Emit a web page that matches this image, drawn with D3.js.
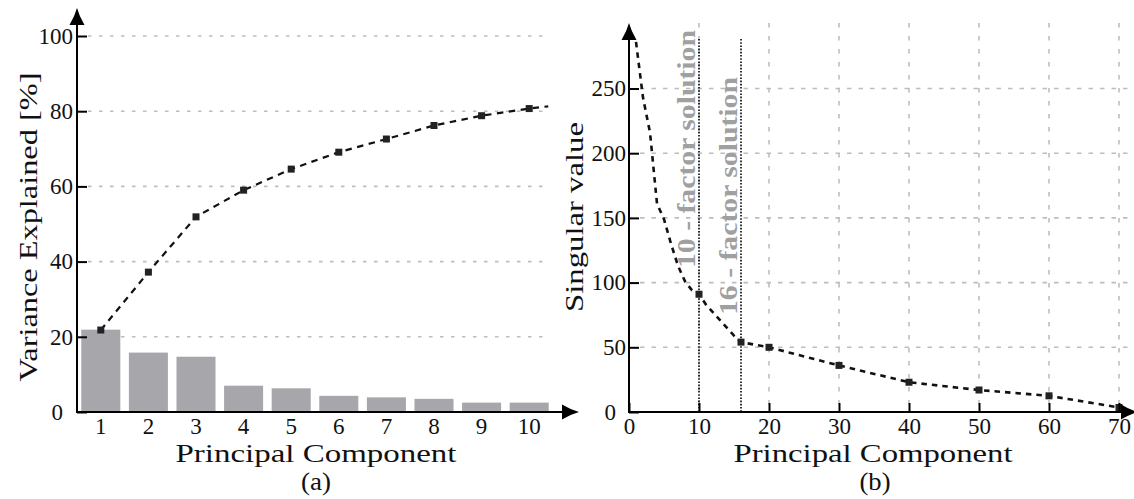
<!DOCTYPE html>
<html>
<head>
<meta charset="utf-8">
<script src="https://cdn.jsdelivr.net/npm/d3@7"></script>
<style>
  html, body { margin: 0; padding: 0; background: #fff; }
  svg { display: block; }
  text { font-family: "Liberation Serif", "Times New Roman", serif; fill: #111; }
</style>
</head>
<body>
<svg id="chart" width="1134" height="499"></svg>
<script>
/* ---------- data: (a) variance explained ---------- */
const components = [1, 2, 3, 4, 5, 6, 7, 8, 9, 10];
const varianceExplained = [21.9, 15.8, 14.7, 7.0, 6.3, 4.3, 3.9, 3.5, 2.5, 2.5];
const cumulativeExplained = [21.8, 37.2, 51.9, 59.0, 64.6, 69.1, 72.6, 76.2, 78.8, 80.7];
// the dashed cumulative curve runs a little past the last marker
const cumulativeTail = { pc: 10.4, value: 81.3 };
const leftYTicks = [0, 20, 40, 60, 80, 100];

/* ---------- data: (b) singular values ---------- */
const svComponents = [1, 2, 3, 4, 5, 6, 7, 8, 9, 10, 11, 12, 13, 14, 15, 16, 20, 30, 40, 50, 60, 70];
const singularValues = [286, 243, 216, 161, 149, 130, 113, 101, 94, 91, 83, 77, 71, 65, 59, 54, 50, 36, 23, 17, 12.5, 3.5];
const svMarked = [10, 16, 20, 30, 40, 50, 60, 70];
const factorSolutions = [10, 16];
const rightXTicks = [0, 10, 20, 30, 40, 50, 60, 70];
const rightYTicks = [0, 50, 100, 150, 200, 250];

const svg = d3.select('#chart');
const font = '"Liberation Serif", "Times New Roman", serif';
const gridColor = '#bdbdbd';
const barColor = '#a7a7ab';
const noteColor = '#a0a0a0';
const tickFont = 23;
const titleFont = 26;

// arrow head pointing along +x, tip at origin
const arrowPath = 'M0,0 Q-8,-2.2 -17,-7.5 L-17,7.5 Q-8,2.2 0,0 Z';
function arrow(g, x, y, angle) {
  g.append('path').attr('d', arrowPath)
    .attr('transform', `translate(${x},${y}) rotate(${angle})`)
    .attr('fill', '#000');
}

function styleTicks(axis) {
  axis.selectAll('.tick text')
    .attr('font-family', font).attr('font-size', tickFont).attr('fill', '#111');
}

/* =========================== (a) =========================== */
const xA = d3.scaleBand().domain(components).range([77, 553]).paddingInner(0.18).paddingOuter(0.09);
const yA = d3.scaleLinear().domain([0, 100]).range([412, 36]);
const xAline = d3.scaleLinear().domain([1, 10])
  .range([xA(1) + xA.bandwidth() / 2, xA(10) + xA.bandwidth() / 2]);

const gA = svg.append('g').attr('class', 'panel-a');

// horizontal grid
gA.append('g').selectAll('line').data(leftYTicks.filter(d => d > 0)).join('line')
  .attr('x1', 88).attr('x2', 548)
  .attr('y1', d => yA(d)).attr('y2', d => yA(d))
  .attr('stroke', gridColor).attr('stroke-width', 1.6)
  .attr('stroke-dasharray', '3.5,7.5');

// bars
gA.append('g').selectAll('rect').data(components).join('rect')
  .attr('x', d => xA(d))
  .attr('width', xA.bandwidth())
  .attr('y', (d, i) => yA(varianceExplained[i]))
  .attr('height', (d, i) => yA(0) - yA(varianceExplained[i]))
  .attr('fill', barColor);

// cumulative line
const cumPts = components.map((d, i) => [d, cumulativeExplained[i]]).concat([[cumulativeTail.pc, cumulativeTail.value]]);
gA.append('path')
  .datum(cumPts)
  .attr('d', d3.line().x(d => xAline(d[0])).y(d => yA(d[1])))
  .attr('fill', 'none').attr('stroke', '#111').attr('stroke-width', 2.2)
  .attr('stroke-dasharray', '6.5,5.5');
gA.append('g').selectAll('rect').data(components).join('rect')
  .attr('x', d => xAline(d) - 3.5)
  .attr('y', (d, i) => yA(cumulativeExplained[i]) - 3.5)
  .attr('width', 7).attr('height', 7)
  .attr('fill', '#222');

// y axis (ticks inside)
const yAxisA = gA.append('g').attr('transform', 'translate(77,0)')
  .call(d3.axisLeft(yA).tickValues(leftYTicks).tickSize(-10).tickPadding(4));
yAxisA.select('.domain').remove();
yAxisA.selectAll('.tick line').attr('stroke', '#000').attr('stroke-width', 2);
styleTicks(yAxisA);
yAxisA.selectAll('.tick text').attr('dx', d => d === 0 ? -10 : 0);

// x axis labels (no ticks)
const xAxisA = gA.append('g').attr('transform', 'translate(0,412)')
  .call(d3.axisBottom(xA).tickSize(0).tickPadding(6));
xAxisA.select('.domain').remove();
styleTicks(xAxisA);

// axis lines + arrows
gA.append('line').attr('x1', 77).attr('x2', 77).attr('y1', 413).attr('y2', 12)
  .attr('stroke', '#000').attr('stroke-width', 2);
gA.append('line').attr('x1', 76).attr('x2', 570).attr('y1', 412).attr('y2', 412)
  .attr('stroke', '#000').attr('stroke-width', 2);
arrow(gA, 77, 8, -90);
arrow(gA, 579, 412, 0);

// titles
gA.append('text').attr('x', 316).attr('y', 462).attr('text-anchor', 'middle')
  .attr('font-size', titleFont).attr('textLength', 281).attr('lengthAdjust', 'spacingAndGlyphs')
  .text('Principal Component');
gA.append('text').attr('x', 316).attr('y', 490).attr('text-anchor', 'middle')
  .attr('font-size', titleFont).attr('textLength', 30).attr('lengthAdjust', 'spacingAndGlyphs')
  .text('(a)');
gA.append('text').attr('transform', 'translate(37,227) rotate(-90)').attr('text-anchor', 'middle')
  .attr('font-size', titleFont).attr('textLength', 309).attr('lengthAdjust', 'spacingAndGlyphs')
  .text('Variance Explained [%]');

/* =========================== (b) =========================== */
const xB = d3.scaleLinear().domain([0, 70]).range([629, 1119]);
const yB = d3.scaleLinear().domain([0, 250]).range([412, 88.5]);

const gB = svg.append('g').attr('class', 'panel-b');

// grid
gB.append('g').selectAll('line').data(rightYTicks.filter(d => d > 0)).join('line')
  .attr('x1', 640).attr('x2', 1134)
  .attr('y1', d => yB(d)).attr('y2', d => yB(d))
  .attr('stroke', gridColor).attr('stroke-width', 1.6)
  .attr('stroke-dasharray', '4.5,7');
gB.append('g').selectAll('line').data(rightXTicks.filter(d => d > 0)).join('line')
  .attr('x1', d => xB(d)).attr('x2', d => xB(d))
  .attr('y1', 23).attr('y2', 412)
  .attr('stroke', gridColor).attr('stroke-width', 1.6)
  .attr('stroke-dasharray', '4.5,8.5');

// factor solution markers
gB.append('g').selectAll('line').data(factorSolutions).join('line')
  .attr('x1', d => xB(d)).attr('x2', d => xB(d))
  .attr('y1', 39).attr('y2', 412)
  .attr('stroke', '#000').attr('stroke-width', 1.6)
  .attr('stroke-dasharray', '1.6,1.6');
gB.append('g').selectAll('text').data(factorSolutions).join('text')
  .attr('transform', (d, i) => `translate(${xB(d) - 4},${i === 0 ? 268 : 315}) rotate(-90)`)
  .attr('font-size', 25).attr('font-weight', 'bold')
  .attr('textLength', 238).attr('lengthAdjust', 'spacingAndGlyphs')
  .style('fill', noteColor)
  .text(d => `${d} - factor solution`);

// singular value curve
const svPts = svComponents.map((d, i) => [d, singularValues[i]]);
gB.append('path')
  .datum(svPts)
  .attr('d', d3.line().x(d => xB(d[0])).y(d => yB(d[1])))
  .attr('fill', 'none').attr('stroke', '#111').attr('stroke-width', 2.6)
  .attr('stroke-dasharray', '5.5,5');
gB.append('g').selectAll('rect').data(svMarked).join('rect')
  .attr('x', d => xB(d) - 3.5)
  .attr('y', d => yB(singularValues[svComponents.indexOf(d)]) - 3.5)
  .attr('width', 7).attr('height', 7)
  .attr('fill', '#222');

// axes (ticks inside)
const yAxisB = gB.append('g').attr('transform', 'translate(629,0)')
  .call(d3.axisLeft(yB).tickValues(rightYTicks).tickSize(-10).tickPadding(3));
yAxisB.select('.domain').remove();
yAxisB.selectAll('.tick line').attr('stroke', '#000').attr('stroke-width', 2);
styleTicks(yAxisB);
yAxisB.selectAll('.tick text').attr('dx', d => d === 0 ? -10 : 0);

const xAxisB = gB.append('g').attr('transform', 'translate(0,412)')
  .call(d3.axisBottom(xB).tickValues(rightXTicks).tickSize(-9).tickPadding(6));
xAxisB.select('.domain').remove();
xAxisB.selectAll('.tick line').attr('stroke', '#000').attr('stroke-width', 2);
styleTicks(xAxisB);

gB.append('line').attr('x1', 629).attr('x2', 629).attr('y1', 413).attr('y2', 27)
  .attr('stroke', '#000').attr('stroke-width', 2);
gB.append('line').attr('x1', 628).attr('x2', 1130).attr('y1', 412).attr('y2', 412)
  .attr('stroke', '#000').attr('stroke-width', 2);
arrow(gB, 629, 23, -90);
arrow(gB, 1138, 412, 0);

gB.append('text').attr('x', 873).attr('y', 462).attr('text-anchor', 'middle')
  .attr('font-size', titleFont).attr('textLength', 279).attr('lengthAdjust', 'spacingAndGlyphs')
  .text('Principal Component');
gB.append('text').attr('x', 875).attr('y', 490).attr('text-anchor', 'middle')
  .attr('font-size', titleFont).attr('textLength', 31).attr('lengthAdjust', 'spacingAndGlyphs')
  .text('(b)');
gB.append('text').attr('transform', 'translate(583,217) rotate(-90)').attr('text-anchor', 'middle')
  .attr('font-size', titleFont).attr('textLength', 190).attr('lengthAdjust', 'spacingAndGlyphs')
  .text('Singular value');
</script>
</body>
</html>
